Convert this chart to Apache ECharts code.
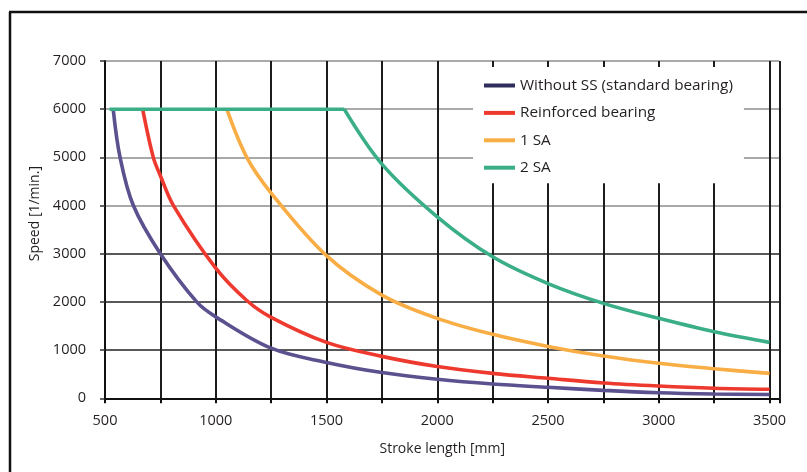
<!DOCTYPE html>
<html>
<head>
<meta charset="utf-8">
<script src="https://cdn.jsdelivr.net/npm/echarts@6/dist/echarts.min.js"></script>
<style>
  html, body { margin: 0; padding: 0; background: #fff; }
  #chart { width: 807px; height: 472px; }
</style>
</head>
<body>
<div id="chart"></div>
<script>
// Permissible speed versus stroke length for the four bearing variants
const seriesNames = [
  'Without SS (standard bearing)',
  'Reinforced bearing',
  '1 SA',
  '2 SA'
];

const strokeWithoutSS = [537, 568, 628, 750, 914, 1000, 1250, 1500, 1750, 2000, 2250, 2500, 2750, 3000, 3250, 3500];
const speedWithoutSS  = [6000, 5000, 4000, 3000, 2000, 1690, 1040, 745, 535, 395, 296, 228, 165, 116, 90, 78];

const strokeReinforced = [670, 718, 750, 809, 1000, 1140, 1250, 1500, 1750, 2000, 2250, 2500, 2750, 3000, 3250, 3500];
const speedReinforced  = [6000, 5000, 4620, 4000, 2700, 2030, 1680, 1160, 870, 660, 518, 415, 318, 255, 210, 187];

const stroke1SA = [1050, 1140, 1250, 1500, 1750, 2000, 2250, 2500, 2750, 3000, 3250, 3500];
const speed1SA  = [6000, 5000, 4260, 2960, 2142, 1659, 1327, 1077, 877, 726, 614, 518];

// 2 SA: constant plateau, then the falling branch from the corner at 1580 mm
const stroke2SAPlateau = [520, 1580];
const speed2SAPlateau  = [6000, 6000];
const stroke2SA = [1580, 1750, 2000, 2250, 2500, 2750, 3000, 3250, 3500];
const speed2SA  = [6000, 4860, 3766, 2936, 2380, 1970, 1659, 1381, 1161];

const xTickValues = [500, 1000, 1500, 2000, 2500, 3000, 3500];
const yTickValues = [0, 1000, 2000, 3000, 4000, 5000, 6000, 7000];

const lineColors   = ['#5b518f', '#ee3a2e', '#f9ad45', '#3aae87'];
const legendColors = ['#2e2d5c', '#ee3a2e', '#f9ad45', '#3aae87'];

const pair = (xs, ys) => xs.map((x, i) => [x, ys[i]]);

const font = '"Open Sans", "Noto Sans", sans-serif';
const chart = echarts.init(document.getElementById('chart'), null, { renderer: 'canvas' });

function curve(name, data, color, z, smooth) {
  return {
    name,
    type: 'line',
    data,
    symbol: 'none',
    smooth,
    smoothConstraint: false,
    lineStyle: { color, width: 3.6 },
    itemStyle: { color },
    z
  };
}

chart.setOption({
  animation: false,
  backgroundColor: '#fff',
  textStyle: { fontFamily: font, color: '#231f20' },
  grid: { left: 105, right: 27.5, top: 61, bottom: 73.7, containLabel: false },
  graphic: [
    { type: 'line', silent: true, shape: { x1: 9, y1: 12, x2: 807, y2: 12 }, style: { stroke: '#111', lineWidth: 2.5 } },
    { type: 'line', silent: true, shape: { x1: 10, y1: 12, x2: 10, y2: 472 }, style: { stroke: '#111', lineWidth: 2.5 } }
  ],
  legend: {
    left: 473,
    top: 67,
    orient: 'vertical',
    backgroundColor: '#fff',
    padding: [11, 11, 8, 11],
    icon: 'rect',
    itemWidth: 31,
    itemHeight: 4,
    itemGap: 12.4,
    textStyle: { fontFamily: font, fontSize: 15.3, lineHeight: 14, color: '#231f20' },
    data: seriesNames.map((name, i) => ({
      name,
      itemStyle: { color: legendColors[i] }
    }))
  },
  xAxis: {
    type: 'value',
    min: 500,
    max: 3545,
    interval: 250,
    name: 'Stroke length [mm]',
    nameLocation: 'middle',
    nameGap: 44,
    nameTextStyle: { fontFamily: font, fontSize: 14, color: '#231f20' },
    axisLine: { show: true, onZero: false, lineStyle: { color: '#111', width: 2 } },
    axisTick: { show: true, length: 5, lineStyle: { color: '#111', width: 2 } },
    axisLabel: {
      fontFamily: font, fontSize: 14.5, color: '#231f20', margin: 15,
      formatter: v => (xTickValues.includes(v) ? String(v) : '')
    },
    splitLine: { show: true, lineStyle: { color: '#1c1c1c', width: 2 } }
  },
  yAxis: {
    type: 'value',
    min: 0,
    max: 7000,
    interval: 1000,
    name: 'Speed [1/min.]',
    nameLocation: 'middle',
    nameGap: 58,
    nameTextStyle: { fontFamily: font, fontSize: 14, color: '#231f20', padding: [0, 0, 0, 32] },
    axisLine: { show: true, lineStyle: { color: '#111', width: 2 } },
    axisTick: { show: true, length: 5, lineStyle: { color: '#333', width: 1.5 } },
    axisLabel: {
      fontFamily: font, fontSize: 14.5, color: '#231f20', margin: 19,
      formatter: v => (yTickValues.includes(v) ? String(v) : '')
    },
    splitLine: {
      show: true,
      lineStyle: {
        color: ['#222', '#222', '#222', '#222', '#8c8c8c', '#8c8c8c', '#8c8c8c', '#8c8c8c'],
        width: 1.6
      }
    }
  },
  series: [
    curve(seriesNames[0], pair(strokeWithoutSS, speedWithoutSS), lineColors[0], 2, 0.35),
    curve(seriesNames[1], pair(strokeReinforced, speedReinforced), lineColors[1], 3, 0.35),
    curve(seriesNames[2], pair(stroke1SA, speed1SA), lineColors[2], 4, 0.35),
    curve(seriesNames[3], pair(stroke2SAPlateau, speed2SAPlateau), lineColors[3], 5, false),
    curve(seriesNames[3], pair(stroke2SA, speed2SA), lineColors[3], 5, 0.35)
  ]
});
</script>
</body>
</html>
